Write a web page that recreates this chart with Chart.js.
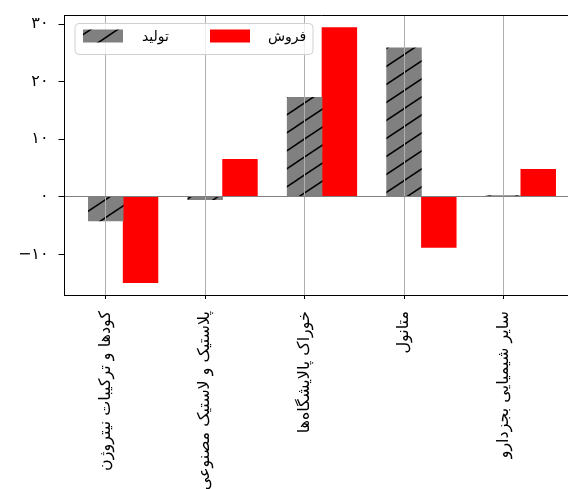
<!DOCTYPE html>
<html>
<head>
<meta charset="utf-8">
<script src="https://cdn.jsdelivr.net/npm/chart.js@4.4.0/dist/chart.umd.min.js"></script>
<style>
html, body { margin: 0; padding: 0; overflow: hidden; background: #fff; }
</style>
</head>
<body>
<canvas id="myChart" width="580" height="520"></canvas>
<script>
let categories = ['کودها و ترکیبات نیتروژن', 'پلاستیک و لاستیک مصنوعی', 'خوراک پالایشگاه‌ها', 'متانول', 'سایر شیمیایی بجزدارو'];
let production = [-4.2, -0.5, 17.3, 25.9, 0.2];
let sales = [-14.9, 6.5, 29.4, -8.8, 4.8];
let yTicks = [-10, 0, 10, 20, 30];
let seriesLabels = ['تولید', 'فروش'];

const barW = 0.35;
const font = "'DejaVu Sans', sans-serif";

function faDigits(v) {
  const fa = '۰۱۲۳۴۵۶۷۸۹';
  const s = String(Math.abs(v)).replace(/\d/g, d => fa[d]);
  return v < 0 ? '−' + s : s;
}

// '/' hatch on gray, like matplotlib
function hatch() {
  const W = 27, H = 18;
  const c = document.createElement('canvas');
  c.width = W; c.height = H;
  const g = c.getContext('2d');
  g.fillStyle = '#808080';
  g.fillRect(0, 0, W, H);
  g.strokeStyle = '#000';
  g.lineWidth = 1.5;
  g.beginPath();
  for (let j = -1; j <= 1; j++) {
    g.moveTo(-W, 2 * H + j * H);
    g.lineTo(2 * W, -H + j * H);
  }
  g.stroke();
  return g.createPattern(c, 'repeat');
}

// top and right spines
const frame = {
  id: 'frame',
  afterDraw(chart) {
    const {ctx, chartArea: a} = chart;
    ctx.save();
    ctx.strokeStyle = '#000';
    ctx.lineWidth = 1;
    ctx.beginPath();
    ctx.moveTo(a.left, a.top + 0.5);
    ctx.lineTo(a.right, a.top + 0.5);
    ctx.lineTo(a.right, a.bottom);
    ctx.stroke();
    ctx.restore();
  }
};

// legend box drawn on top of grid, two columns
const legendBox = {
  id: 'legendBox',
  afterDraw(chart) {
    const {ctx, chartArea: a} = chart;
    const x0 = a.left + 10.5, y0 = a.top + 8.5, w = 238, h = 31;
    ctx.save();
    ctx.beginPath();
    ctx.roundRect(x0, y0, w, h, 4);
    ctx.fillStyle = 'rgba(255,255,255,0.8)';
    ctx.fill();
    ctx.strokeStyle = '#d0d0d0';
    ctx.lineWidth = 1;
    ctx.stroke();
    const offs = [8, 135];
    const textOffs = [67, 193];
    chart.data.datasets.forEach((ds, i) => {
      ctx.fillStyle = ds.backgroundColor;
      ctx.fillRect(x0 + offs[i], y0 + 6, 40, 13);
      ctx.fillStyle = '#000';
      ctx.font = '14px ' + font;
      ctx.textAlign = 'left';
      ctx.textBaseline = 'middle';
      ctx.fillText(ds.label, x0 + textOffs[i], y0 + 14);
    });
    ctx.restore();
  }
};

var ctx = document.getElementById('myChart').getContext('2d');
var chart = new Chart(ctx, {
  type: 'bar',
  data: {
    datasets: [
      {
        label: seriesLabels[0],
        data: production.map((v, i) => ({x: i, y: v})),
        backgroundColor: hatch()
      },
      {
        label: seriesLabels[1],
        data: sales.map((v, i) => ({x: i + barW, y: v})),
        backgroundColor: '#ff0000'
      }
    ]
  },
  options: {
    responsive: false,
    animation: false,
    datasets: { bar: { grouped: false, categoryPercentage: 1, barPercentage: 1 } },
    layout: { padding: { top: 15, right: 1, left: 0, bottom: 0 } },
    plugins: { legend: { display: false }, tooltip: { enabled: false } },
    scales: {
      x: {
        type: 'linear',
        min: -0.415,
        max: 4.76,
        offset: false,
        afterBuildTicks: s => { s.ticks = categories.map((c, i) => ({value: i})); },
        afterFit: s => { s.height = 225; s.paddingLeft = 0; s.paddingRight = 0; },
        grid: { z: 1, color: '#b0b0b0', lineWidth: 1, tickColor: '#000', tickLength: 4, offset: false },
        border: { z: 1, color: '#000', width: 1 },
        ticks: {
          autoSkip: false, minRotation: 90, maxRotation: 90, padding: 12, color: '#000',
          font: { family: font, size: 16 },
          callback: v => categories[v]
        }
      },
      y: {
        min: -17.06,
        max: 31.6,
        afterBuildTicks: s => { s.ticks = yTicks.map(v => ({value: v})); },
        afterFit: s => { s.width = 64.5; s.paddingTop = 0; s.paddingBottom = 0; },
        grid: {
          z: 1,
          color: c => (c.tick && c.tick.value === 0) ? '#808080' : 'rgba(0,0,0,0)',
          tickColor: '#000', tickLength: 6
        },
        border: { z: 1, color: '#000', width: 1 },
        ticks: {
          padding: 10, color: '#000',
          font: { family: font, size: 16 },
          callback: v => faDigits(v)
        }
      }
    }
  },
  plugins: [frame, legendBox]
});
</script>
</body>
</html>
